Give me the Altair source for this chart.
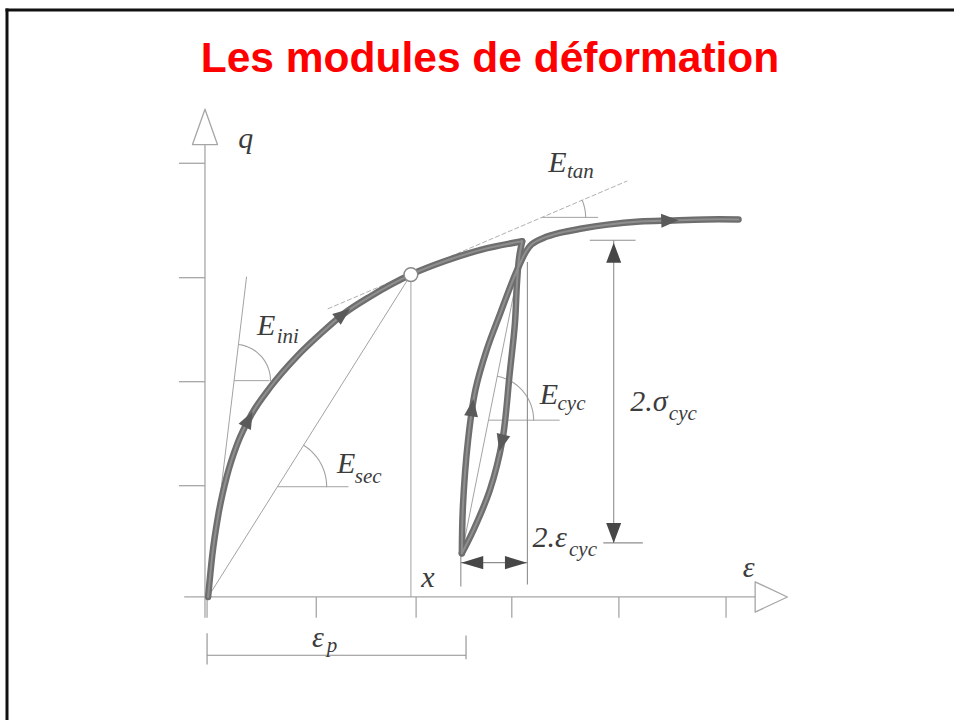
import altair as alt
import numpy as np
import pandas as pd

TITLE = "Les modules de déformation"

# Drawing units: 1 = one tick spacing on the strain axis (same length on q).
X_DOMAIN = [-1.981, 7.192]
Y_DOMAIN = [-1.183, 5.740]

# ---- q–ε response -------------------------------------------------------
loading_eps = [0.02, 0.06, 0.12, 0.20, 0.30, 0.44, 0.62, 0.88, 1.10, 1.32, 1.58, 1.97, 2.30, 2.65, 3.04]
loading_q   = [0.00, 0.40, 0.80, 1.16, 1.47, 1.76, 2.02, 2.32, 2.53, 2.72, 2.89, 3.10, 3.23, 3.34, 3.42]

unload_eps = [3.04, 3.01, 2.99, 2.97, 2.92, 2.85, 2.73, 2.57, 2.46]
unload_q   = [3.42, 3.26, 3.02, 2.63, 2.15, 1.51, 1.03, 0.64, 0.42]

reload_eps = [2.46, 2.47, 2.52, 2.59, 2.70, 2.83, 2.94, 2.99, 3.03, 3.07, 3.13, 3.24, 3.40, 3.60, 3.86, 4.17, 4.46, 4.80, 5.12]
reload_q   = [0.42, 0.87, 1.51, 1.99, 2.38, 2.73, 3.02, 3.14, 3.23, 3.31, 3.39, 3.45, 3.50, 3.54, 3.58, 3.61, 3.62, 3.63, 3.63]

# direction arrows along the response (heading in degrees, clockwise from up)
flow_eps = [0.41, 1.32, 4.46, 2.56, 2.84]
flow_q   = [1.71, 2.72, 3.62, 1.82, 1.48]
flow_dir = [27, 52, 88, 8, 194]

# point x on the loading curve
point_eps = [1.97]
point_q   = [3.10]

# ---- axes ----------------------------------------------------------------
eps_ticks = [0.01, 1.06, 2.02, 2.94, 3.97, 5.00]
q_ticks   = [1.07, 2.07, 3.07, 4.17]

axis_segments = (
    [(-0.01, -0.20, -0.01, 4.35), (-0.21, 0.00, 5.28, 0.00)]
    + [(-0.26, t, -0.01, t) for t in q_ticks]
    + [(t, 0.00, t, -0.20) for t in eps_ticks]
)
axis_heads = {
    "q": [(-0.13, 4.35), (-0.01, 4.69), (0.11, 4.35), (-0.13, 4.35)],
    "eps": [(5.28, 0.145), (5.59, 0.00), (5.28, -0.145), (5.28, 0.145)],
}

# ---- moduli construction lines --------------------------------------------
construction_segments = [
    (0.02, 0.00, 0.39, 3.08),   # E_ini
    (0.27, 2.08, 0.61, 2.08),
    (0.02, 0.00, 1.97, 3.10),   # E_sec
    (0.69, 1.06, 1.37, 1.06),
    (3.23, 3.65, 3.77, 3.65),   # E_tan
    (2.46, 0.42, 3.02, 3.22),   # E_cyc
    (2.72, 1.70, 3.40, 1.70),
    (1.97, 3.03, 1.97, 0.00),   # drop line at x
]
tangent_segments = [(1.17, 2.77, 4.05, 4.00)]

arc_names  = ["ini", "sec", "tan", "cyc"]
arc_eps    = [0.27, 0.69, 3.23, 2.72]
arc_q      = [2.08, 1.06, 3.65, 1.70]
arc_radius = [0.35, 0.47, 0.42, 0.43]
arc_angle  = [83, 58, 23, 79]

# ---- dimensions ------------------------------------------------------------
dimension_segments = [
    (2.45, 0.42, 2.45, 0.10),   # 2.eps_cyc
    (3.09, 3.22, 3.09, 0.12),
    (2.45, 0.33, 3.09, 0.33),
    (3.92, 3.43, 3.92, 0.52),   # 2.sigma_cyc
    (3.69, 3.43, 4.13, 3.43),
    (3.82, 0.52, 4.20, 0.52),
    (0.01, -0.56, 2.50, -0.56), # eps_p
    (0.01, -0.35, 0.01, -0.65),
    (2.50, -0.37, 2.50, -0.60),
]
sigma_arrow_eps = [3.92, 3.92]
sigma_arrow_q   = [3.31, 0.615]
sigma_arrow_dir = [0, 180]
strain_arrow_eps = [2.56, 2.98]
strain_arrow_q   = [0.33, 0.33]
strain_arrow_dir = [270, 90]

# ---- labels ------------------------------------------------------------------
label_text = ["q", "E", "tan", "E", "ini", "E", "sec", "E", "cyc",
              "2.σ", "cyc", "2.ε", "cyc", "x", "ε", "ε", "p"]
label_eps  = [0.31, 3.29, 3.47, 0.49, 0.68, 1.26, 1.43, 3.21, 3.38,
              4.08, 4.45, 3.14, 3.49, 2.07, 5.16, 1.02, 1.16]
label_q    = [4.32, 4.09, 4.03, 2.52, 2.44, 1.19, 1.10, 1.86, 1.80,
              1.79, 1.70, 0.48, 0.39, 0.10, 0.19, -0.48, -0.53]
label_main = [1, 1, 0, 1, 0, 1, 0, 1, 0, 1, 0, 1, 0, 1, 1, 1, 0]

# ---------------------------------------------------------------------------
xs = alt.Scale(domain=X_DOMAIN, nice=False, zero=False)
ys = alt.Scale(domain=Y_DOMAIN, nice=False, zero=False)
X = alt.X("u:Q", scale=xs, axis=None)
Y = alt.Y("v:Q", scale=ys, axis=None)


def seg_frame(segs):
    return pd.DataFrame(segs, columns=["u", "v", "u2", "v2"])


def rules(segs, color, width, dash=None):
    kw = dict(color=color, strokeWidth=width)
    if dash:
        kw["strokeDash"] = dash
    return alt.Chart(seg_frame(segs)).mark_rule(**kw).encode(
        x=X, y=Y, x2="u2:Q", y2="v2:Q")


def path_frame(paths):
    rows = []
    for name, (us, vs) in paths.items():
        for i, (a, b) in enumerate(zip(us, vs)):
            rows.append({"path": name, "ord": i, "u": a, "v": b})
    return pd.DataFrame(rows)


def paths(df, color, width, interp="linear"):
    return alt.Chart(df).mark_line(
        color=color, strokeWidth=width, interpolate=interp,
        strokeCap="round", strokeJoin="round",
    ).encode(x=X, y=Y, detail="path:N", order="ord:Q")


def heads(us, vs, dirs, shape, size, color="#474747"):
    df = pd.DataFrame({"u": us, "v": vs, "dir": dirs})
    return alt.Chart(df).mark_point(
        shape=shape, filled=True, color=color, opacity=1, strokeWidth=0, size=size
    ).encode(x=X, y=Y, angle=alt.Angle("dir:Q", scale=None))


# response curve: monotone first loading, free-form hysteresis loop
loading_df = path_frame({"loading": (loading_eps, loading_q)})
loop_df = path_frame({
    "unloading": (unload_eps, unload_q),
    "reloading": (reload_eps, reload_q),
})
curve_layers = [
    paths(loading_df, "#6e6e6e", 6.5, "monotone"),
    paths(loop_df, "#6e6e6e", 6.5, "catmull-rom"),
    paths(loading_df, "#8f8f8f", 2.0, "monotone"),
    paths(loop_df, "#8f8f8f", 2.0, "catmull-rom"),
]

# angle markers
arc_paths = {}
for n, cu, cv, r, a in zip(arc_names, arc_eps, arc_q, arc_radius, arc_angle):
    t = np.radians(np.linspace(0, a, 30))
    arc_paths[n] = (list(cu + r * np.cos(t)), list(cv + r * np.sin(t)))
arcs = paths(path_frame(arc_paths), "#a2a2a2", 1.1)

# hollow axis arrowheads
head_df = path_frame({k: ([p[0] for p in pts], [p[1] for p in pts]) for k, pts in axis_heads.items()})
axis_head_layer = paths(head_df, "#a6a6a6", 1.3)

point_layer = alt.Chart(pd.DataFrame({"u": point_eps, "v": point_q})).mark_point(
    shape="circle", filled=True, color="white", stroke="#8a8a8a", strokeWidth=1.5,
    opacity=1, size=190,
).encode(x=X, y=Y)

labels_df = pd.DataFrame({
    "u": label_eps, "v": label_q, "label": label_text,
    "fs": [30 if m else 21 for m in label_main],
})
labels = alt.Chart(labels_df).mark_text(
    font="Liberation Serif", fontStyle="italic", align="left",
    baseline="alphabetic", color="#3c3c3c",
).encode(x=X, y=Y, text="label:N", size=alt.Size("fs:Q", scale=None))

title = alt.Chart(pd.DataFrame({"t": [TITLE]})).mark_text(
    font="Liberation Sans", fontWeight="bold", fontSize=42.5, color="#ff0000",
    align="center", baseline="alphabetic",
).encode(x=alt.value(490), y=alt.value(72), text="t:N")

frame_df = pd.DataFrame({"k": [0]})
frame_top = alt.Chart(frame_df).mark_rule(color="#111111", strokeWidth=3).encode(
    x=alt.value(5.5), x2=alt.value(954), y=alt.value(10))
frame_left = alt.Chart(frame_df).mark_rule(color="#111111", strokeWidth=3).encode(
    x=alt.value(7), y=alt.value(8.5), y2=alt.value(720))

TRI_FLOW = "M0,-1L0.8,1L-0.8,1Z"
TRI_SIGMA = "M0,-1L0.75,1L-0.75,1Z"
TRI_STRAIN = "M0,-1L0.6,1L-0.6,1Z"

chart = alt.layer(
    rules(axis_segments, "#a6a6a6", 1.3),
    axis_head_layer,
    rules(construction_segments, "#a2a2a2", 1.0),
    rules(tangent_segments, "#b0b0b0", 1.0, [5, 2]),
    arcs,
    rules(dimension_segments, "#8e8e8e", 1.1),
    *curve_layers,
    heads(flow_eps, flow_q, flow_dir, TRI_FLOW, 300, "#5a5a5a"),
    heads(sigma_arrow_eps, sigma_arrow_q, sigma_arrow_dir, TRI_SIGMA, 400),
    heads(strain_arrow_eps, strain_arrow_q, strain_arrow_dir, TRI_STRAIN, 484),
    point_layer,
    labels,
    title,
    frame_top,
    frame_left,
).properties(
    width=954, height=720, padding=0, autosize="none", background="white",
).configure_view(stroke=None)

chart.save("out.html", embed_options={"renderer": "svg", "actions": False})
